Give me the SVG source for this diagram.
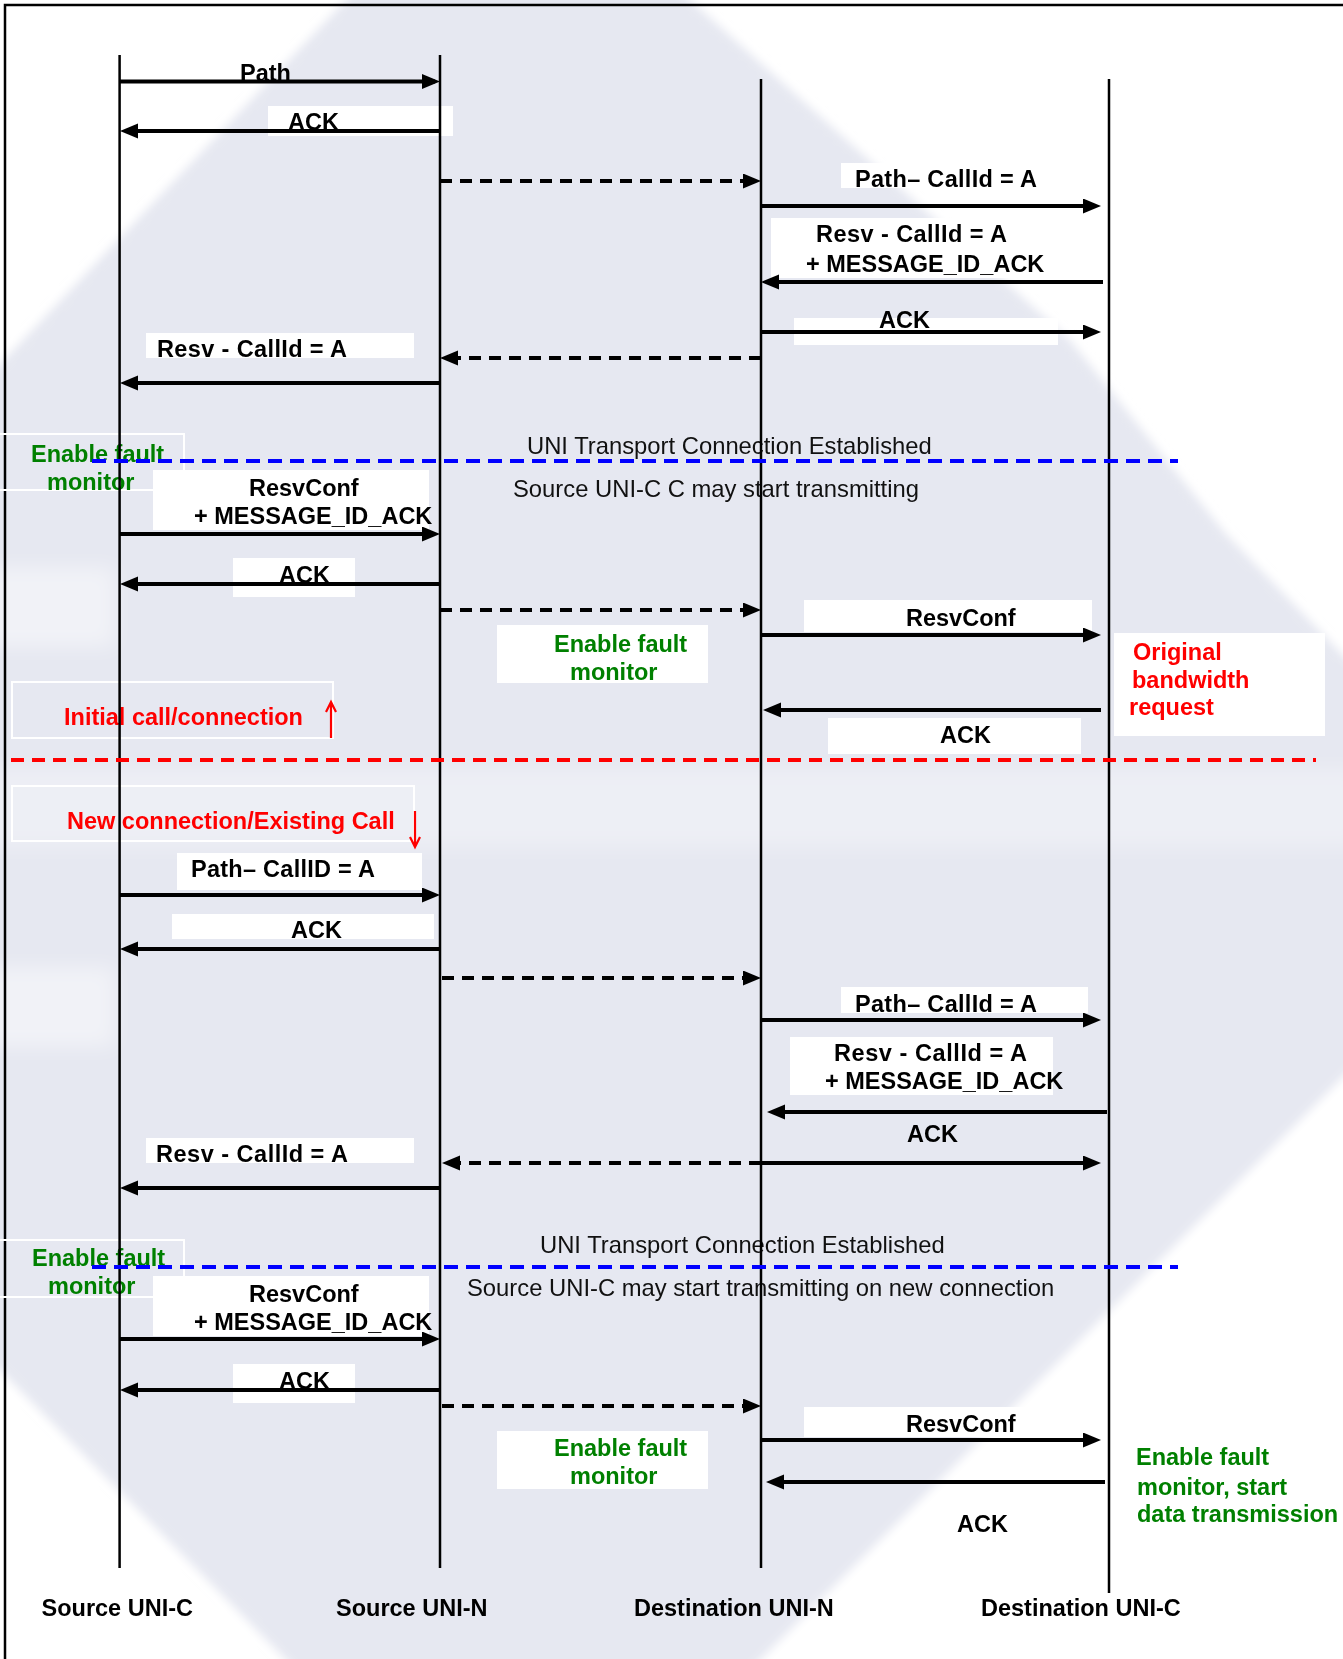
<svg xmlns="http://www.w3.org/2000/svg" width="1343" height="1659" viewBox="0 0 1343 1659">
<defs>
<marker id="ah" markerUnits="userSpaceOnUse" markerWidth="19" markerHeight="16" refX="13" refY="7.5" orient="auto"><path d="M0,0 L18,7.5 L0,15 Z" fill="#000"/></marker>
<filter id="soft" filterUnits="userSpaceOnUse" x="-60" y="-60" width="1460" height="1780"><feGaussianBlur stdDeviation="5"/></filter>
<filter id="softer" filterUnits="userSpaceOnUse" x="-60" y="-60" width="1460" height="1780"><feGaussianBlur stdDeviation="10"/></filter>
</defs>
<style>
.t{font-family:"Liberation Sans",Arial,sans-serif;font-size:23.5px;font-weight:bold;fill:#000}
.n{font-family:"Liberation Sans",Arial,sans-serif;font-size:23.8px;fill:#111}
.g{fill:#008000}
.r{fill:#ff0000}
.ll{stroke:#000;stroke-width:2.5;fill:none}
.m{stroke:#000;stroke-width:3.8;fill:none;marker-end:url(#ah)}
.d{stroke:#000;stroke-width:4;fill:none;stroke-dasharray:12 8;marker-end:url(#ah)}
.wb{fill:#fff}
.ob{fill:none;stroke:#fff;stroke-width:2}
.sep{fill:none;stroke-width:4}
.ra{fill:none;stroke:#ff0000;stroke-width:2.2}
</style>

<g id="background">
<rect x="0" y="0" width="1343" height="1659" fill="#fff"/>
<path filter="url(#soft)" d="M365,-20 L668,-20 L1070,340 L1225,533 L1343,655 L1363,675 L1363,1057 L741,1679 L305,1679 L-20,1350 L-20,385 Z" fill="#e6e8f1"/>
<g filter="url(#softer)" fill="#fff">
<rect x="-20" y="567" width="135" height="80" opacity="0.45"/>
<rect x="-20" y="967" width="135" height="80" opacity="0.45"/>
<rect x="-20" y="768" width="1383" height="80" opacity="0.3"/>
</g>
<path d="M5,1659 V5 H1343" fill="none" stroke="#000" stroke-width="2.5"/>
</g>

<g id="label-boxes">
<rect class="wb" x="268" y="106" width="185" height="30"/>
<rect class="wb" x="841" y="163" width="255" height="25"/>
<rect class="wb" x="771" y="218" width="330" height="60"/>
<rect class="wb" x="794" y="318" width="264" height="27"/>
<rect class="wb" x="146" y="333" width="268" height="25"/>
<rect class="wb" x="153" y="470" width="276" height="60"/>
<rect class="wb" x="233" y="558" width="122" height="39"/>
<rect class="wb" x="804" y="600" width="288" height="32"/>
<rect class="wb" x="828" y="718" width="253" height="36"/>
<rect class="wb" x="177" y="853" width="245" height="37"/>
<rect class="wb" x="172" y="914" width="262" height="25"/>
<rect class="wb" x="841" y="987" width="247" height="26"/>
<rect class="wb" x="790" y="1037" width="263" height="58"/>
<rect class="wb" x="146" y="1138" width="268" height="25"/>
<rect class="wb" x="153" y="1276" width="276" height="60"/>
<rect class="wb" x="233" y="1364" width="122" height="39"/>
<rect class="wb" x="804" y="1407" width="288" height="30"/>
</g>

<g id="note-fault-1">
<rect class="ob" x="-2" y="434" width="186" height="56"/>
<text class="t g" x="31" y="462">Enable fault</text>
<text class="t g" x="47" y="490">monitor</text>
</g>
<g id="note-fault-2">
<rect class="wb" x="497" y="625" width="211" height="58"/>
<text class="t g" x="554" y="652">Enable fault</text>
<text class="t g" x="570" y="680">monitor</text>
</g>
<g id="note-original">
<rect class="wb" x="1114" y="633" width="211" height="103"/>
<text class="t r" x="1133" y="660">Original</text>
<text class="t r" x="1132" y="688">bandwidth</text>
<text class="t r" x="1129" y="715">request</text>
</g>
<g id="note-initial">
<rect class="ob" x="12" y="682" width="321" height="56"/>
<text class="t r" x="64" y="725">Initial call/connection</text>
<path class="ra" d="M331,738 V704 M326,712 L331,702 L336,712"/>
</g>
<g id="note-new">
<rect class="ob" x="12" y="786" width="402" height="55"/>
<text class="t r" x="67" y="829">New connection/Existing Call</text>
<path class="ra" d="M415,811 V845 M410,837 L415,847 L420,837"/>
</g>
<g id="note-fault-3">
<rect class="ob" x="-2" y="1240" width="186" height="57"/>
<text class="t g" x="32" y="1266">Enable fault</text>
<text class="t g" x="48" y="1294">monitor</text>
</g>
<g id="note-fault-4">
<rect class="wb" x="497" y="1431" width="211" height="58"/>
<text class="t g" x="554" y="1456">Enable fault</text>
<text class="t g" x="570" y="1484">monitor</text>
</g>
<g id="note-fault-5">
<text class="t g" x="1136" y="1465">Enable fault</text>
<text class="t g" x="1137" y="1495">monitor, start</text>
<text class="t g" x="1137" y="1522">data transmission</text>
</g>

<g id="status-texts">
<text class="n" x="527" y="454">UNI Transport Connection Established</text>
<text class="n" x="513" y="497">Source UNI-C C may start transmitting</text>
<text class="n" x="540" y="1253">UNI Transport Connection Established</text>
<text class="n" x="467" y="1296">Source UNI-C may start transmitting on new connection</text>
</g>

<g id="message-labels">
<text class="t" x="240" y="81">Path</text>
<text class="t" x="288" y="130">ACK</text>
<text class="t" x="855" y="187" textLength="182" lengthAdjust="spacing">Path– CallId = A</text>
<text class="t" x="816" y="242" textLength="191" lengthAdjust="spacing">Resv - CallId = A</text>
<text class="t" x="806" y="272">+ MESSAGE_ID_ACK</text>
<text class="t" x="879" y="328">ACK</text>
<text class="t" x="157" y="357" textLength="190" lengthAdjust="spacing">Resv - CallId = A</text>
<text class="t" x="249" y="496">ResvConf</text>
<text class="t" x="194" y="524">+ MESSAGE_ID_ACK</text>
<text class="t" x="279" y="583">ACK</text>
<text class="t" x="906" y="626">ResvConf</text>
<text class="t" x="940" y="743">ACK</text>
<text class="t" x="191" y="877" textLength="184" lengthAdjust="spacing">Path– CallID = A</text>
<text class="t" x="291" y="938">ACK</text>
<text class="t" x="855" y="1012" textLength="182" lengthAdjust="spacing">Path– CallId = A</text>
<text class="t" x="834" y="1061" textLength="193" lengthAdjust="spacing">Resv - CallId = A</text>
<text class="t" x="825" y="1089">+ MESSAGE_ID_ACK</text>
<text class="t" x="907" y="1142">ACK</text>
<text class="t" x="156" y="1162" textLength="192" lengthAdjust="spacing">Resv - CallId = A</text>
<text class="t" x="249" y="1302">ResvConf</text>
<text class="t" x="194" y="1330">+ MESSAGE_ID_ACK</text>
<text class="t" x="279" y="1389">ACK</text>
<text class="t" x="906" y="1432">ResvConf</text>
<text class="t" x="957" y="1532">ACK</text>
</g>

<g id="node-source-uni-c">
<line class="ll" x1="119.6" y1="55" x2="119.6" y2="1568"/>
<text class="t" x="41.5" y="1616">Source UNI-C</text>
</g>
<g id="node-source-uni-n">
<line class="ll" x1="440" y1="55" x2="440" y2="1568"/>
<text class="t" x="336" y="1616">Source UNI-N</text>
</g>
<g id="node-destination-uni-n">
<line class="ll" x1="761" y1="79" x2="761" y2="1568"/>
<text class="t" x="634" y="1616">Destination UNI-N</text>
</g>
<g id="node-destination-uni-c">
<line class="ll" x1="1109" y1="79" x2="1109" y2="1593"/>
<text class="t" x="981" y="1616">Destination UNI-C</text>
</g>

<g id="separators">
<line class="sep" x1="92" y1="461" x2="1178" y2="461" stroke="#0000ff" stroke-dasharray="14 8"/>
<line class="sep" x1="11" y1="760" x2="1316" y2="760" stroke="#ff0000" stroke-dasharray="13 8"/>
<line class="sep" x1="92" y1="1267" x2="1178" y2="1267" stroke="#0000ff" stroke-dasharray="14 8"/>
</g>

<g id="connectors">
<line class="m" x1="120" y1="81.5" x2="435" y2="81.5"/>
<line class="m" x1="440" y1="131" x2="125" y2="131"/>
<line class="d" x1="440" y1="181" x2="756" y2="181"/>
<line class="m" x1="761" y1="206" x2="1096" y2="206"/>
<line class="m" x1="1103" y1="282" x2="766" y2="282"/>
<line class="m" x1="761" y1="332" x2="1096" y2="332"/>
<line class="d" x1="761" y1="358" x2="445" y2="358"/>
<line class="m" x1="440" y1="383" x2="125" y2="383"/>
<line class="m" x1="120" y1="534" x2="435" y2="534"/>
<line class="m" x1="440" y1="584" x2="125" y2="584"/>
<line class="d" x1="440" y1="610" x2="756" y2="610"/>
<line class="m" x1="761" y1="635" x2="1096" y2="635"/>
<line class="m" x1="1101" y1="710" x2="768" y2="710"/>
<line class="m" x1="120" y1="895" x2="435" y2="895"/>
<line class="m" x1="440" y1="949" x2="125" y2="949"/>
<line class="d" x1="442" y1="978" x2="756" y2="978"/>
<line class="m" x1="761" y1="1020" x2="1096" y2="1020"/>
<line class="m" x1="1107" y1="1112" x2="772" y2="1112"/>
<line class="d" x1="761" y1="1163" x2="447" y2="1163"/>
<line class="m" x1="761" y1="1163" x2="1096" y2="1163"/>
<line class="m" x1="440" y1="1188" x2="125" y2="1188"/>
<line class="m" x1="120" y1="1339" x2="435" y2="1339"/>
<line class="m" x1="440" y1="1390" x2="125" y2="1390"/>
<line class="d" x1="442" y1="1406" x2="756" y2="1406"/>
<line class="m" x1="761" y1="1440" x2="1096" y2="1440"/>
<line class="m" x1="1105" y1="1482" x2="771" y2="1482"/>
</g>
</svg>
